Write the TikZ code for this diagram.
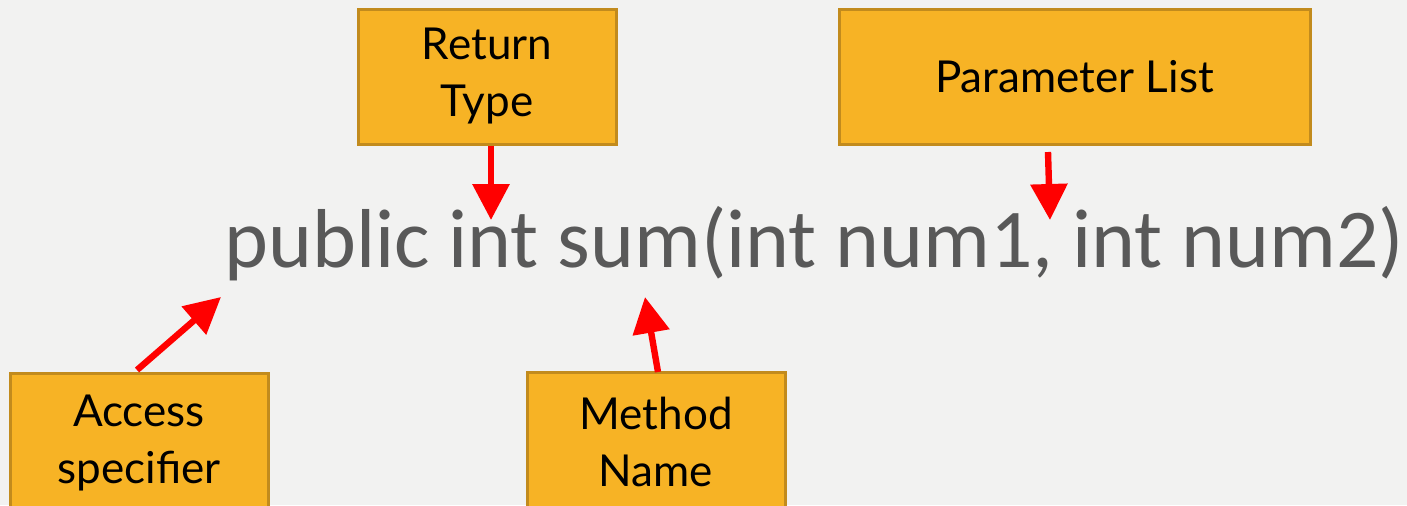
\documentclass[tikz,border=0pt]{standalone}
\usepackage{fontspec}
\setmainfont{Lato}
\newfontfamily\codefont{Carlito}
\usetikzlibrary{arrows.meta}
\definecolor{bg}{HTML}{F2F2F1}
\definecolor{boxfill}{HTML}{F7B325}
\definecolor{boxedge}{HTML}{C28B1D}
\definecolor{codegray}{HTML}{595959}
\definecolor{arrred}{HTML}{FF0000}
\tikzset{
  lbl/.style={draw=boxedge, fill=boxfill, line width=1.5pt, inner sep=0pt, align=center,
    font=\fontsize{22}{28.5}\selectfont, text=black},
  callout/.style={draw=arrred, line width=3.2pt,
    -{Triangle[width=18pt,length=18pt]}},
}
\begin{document}
\begin{tikzpicture}[x=0.5pt,y=-0.5pt]
\useasboundingbox (0,0) rectangle (1407,505);
\fill[bg] (0,0) rectangle (1407,505);
\clip (0,0) rectangle (1407,505);
% boxes
\node[lbl, minimum width=129pt, minimum height=67.5pt] (ret) at (487,76.5) {Return\\Type};
\node[lbl, minimum width=235.5pt, minimum height=67.5pt] (par) at (1074.5,76.5) {Parameter List};
\node[lbl, minimum width=129pt, minimum height=70pt] (acc) at (139,443) {Access\\specifier};
\node[lbl, minimum width=129pt, minimum height=70pt] (met) at (656,442) {Method\\Name};
% code line
\node[anchor=base west, inner sep=0pt, text=codegray] (code) at (224,267)
  {\resizebox{590pt}{!}{\codefont\fontsize{46}{52}\selectfont public int sum(int num1, int num2)}};
% arrow end points
\coordinate (retTip) at (491,220);
\coordinate (parStart) at (1048,152);
\coordinate (parTip) at (1050,220);
\coordinate (accStart) at (137,370);
\coordinate (accTip) at (221,297);
\coordinate (metStart) at (658,372);
\coordinate (metTip) at (645,297);
\draw[callout] (ret.south -| retTip) -- (retTip);
\draw[callout] (parStart) -- (parTip);
\draw[callout] (accStart) -- (accTip);
\draw[callout] (metStart) -- (metTip);
\end{tikzpicture}
\end{document}
